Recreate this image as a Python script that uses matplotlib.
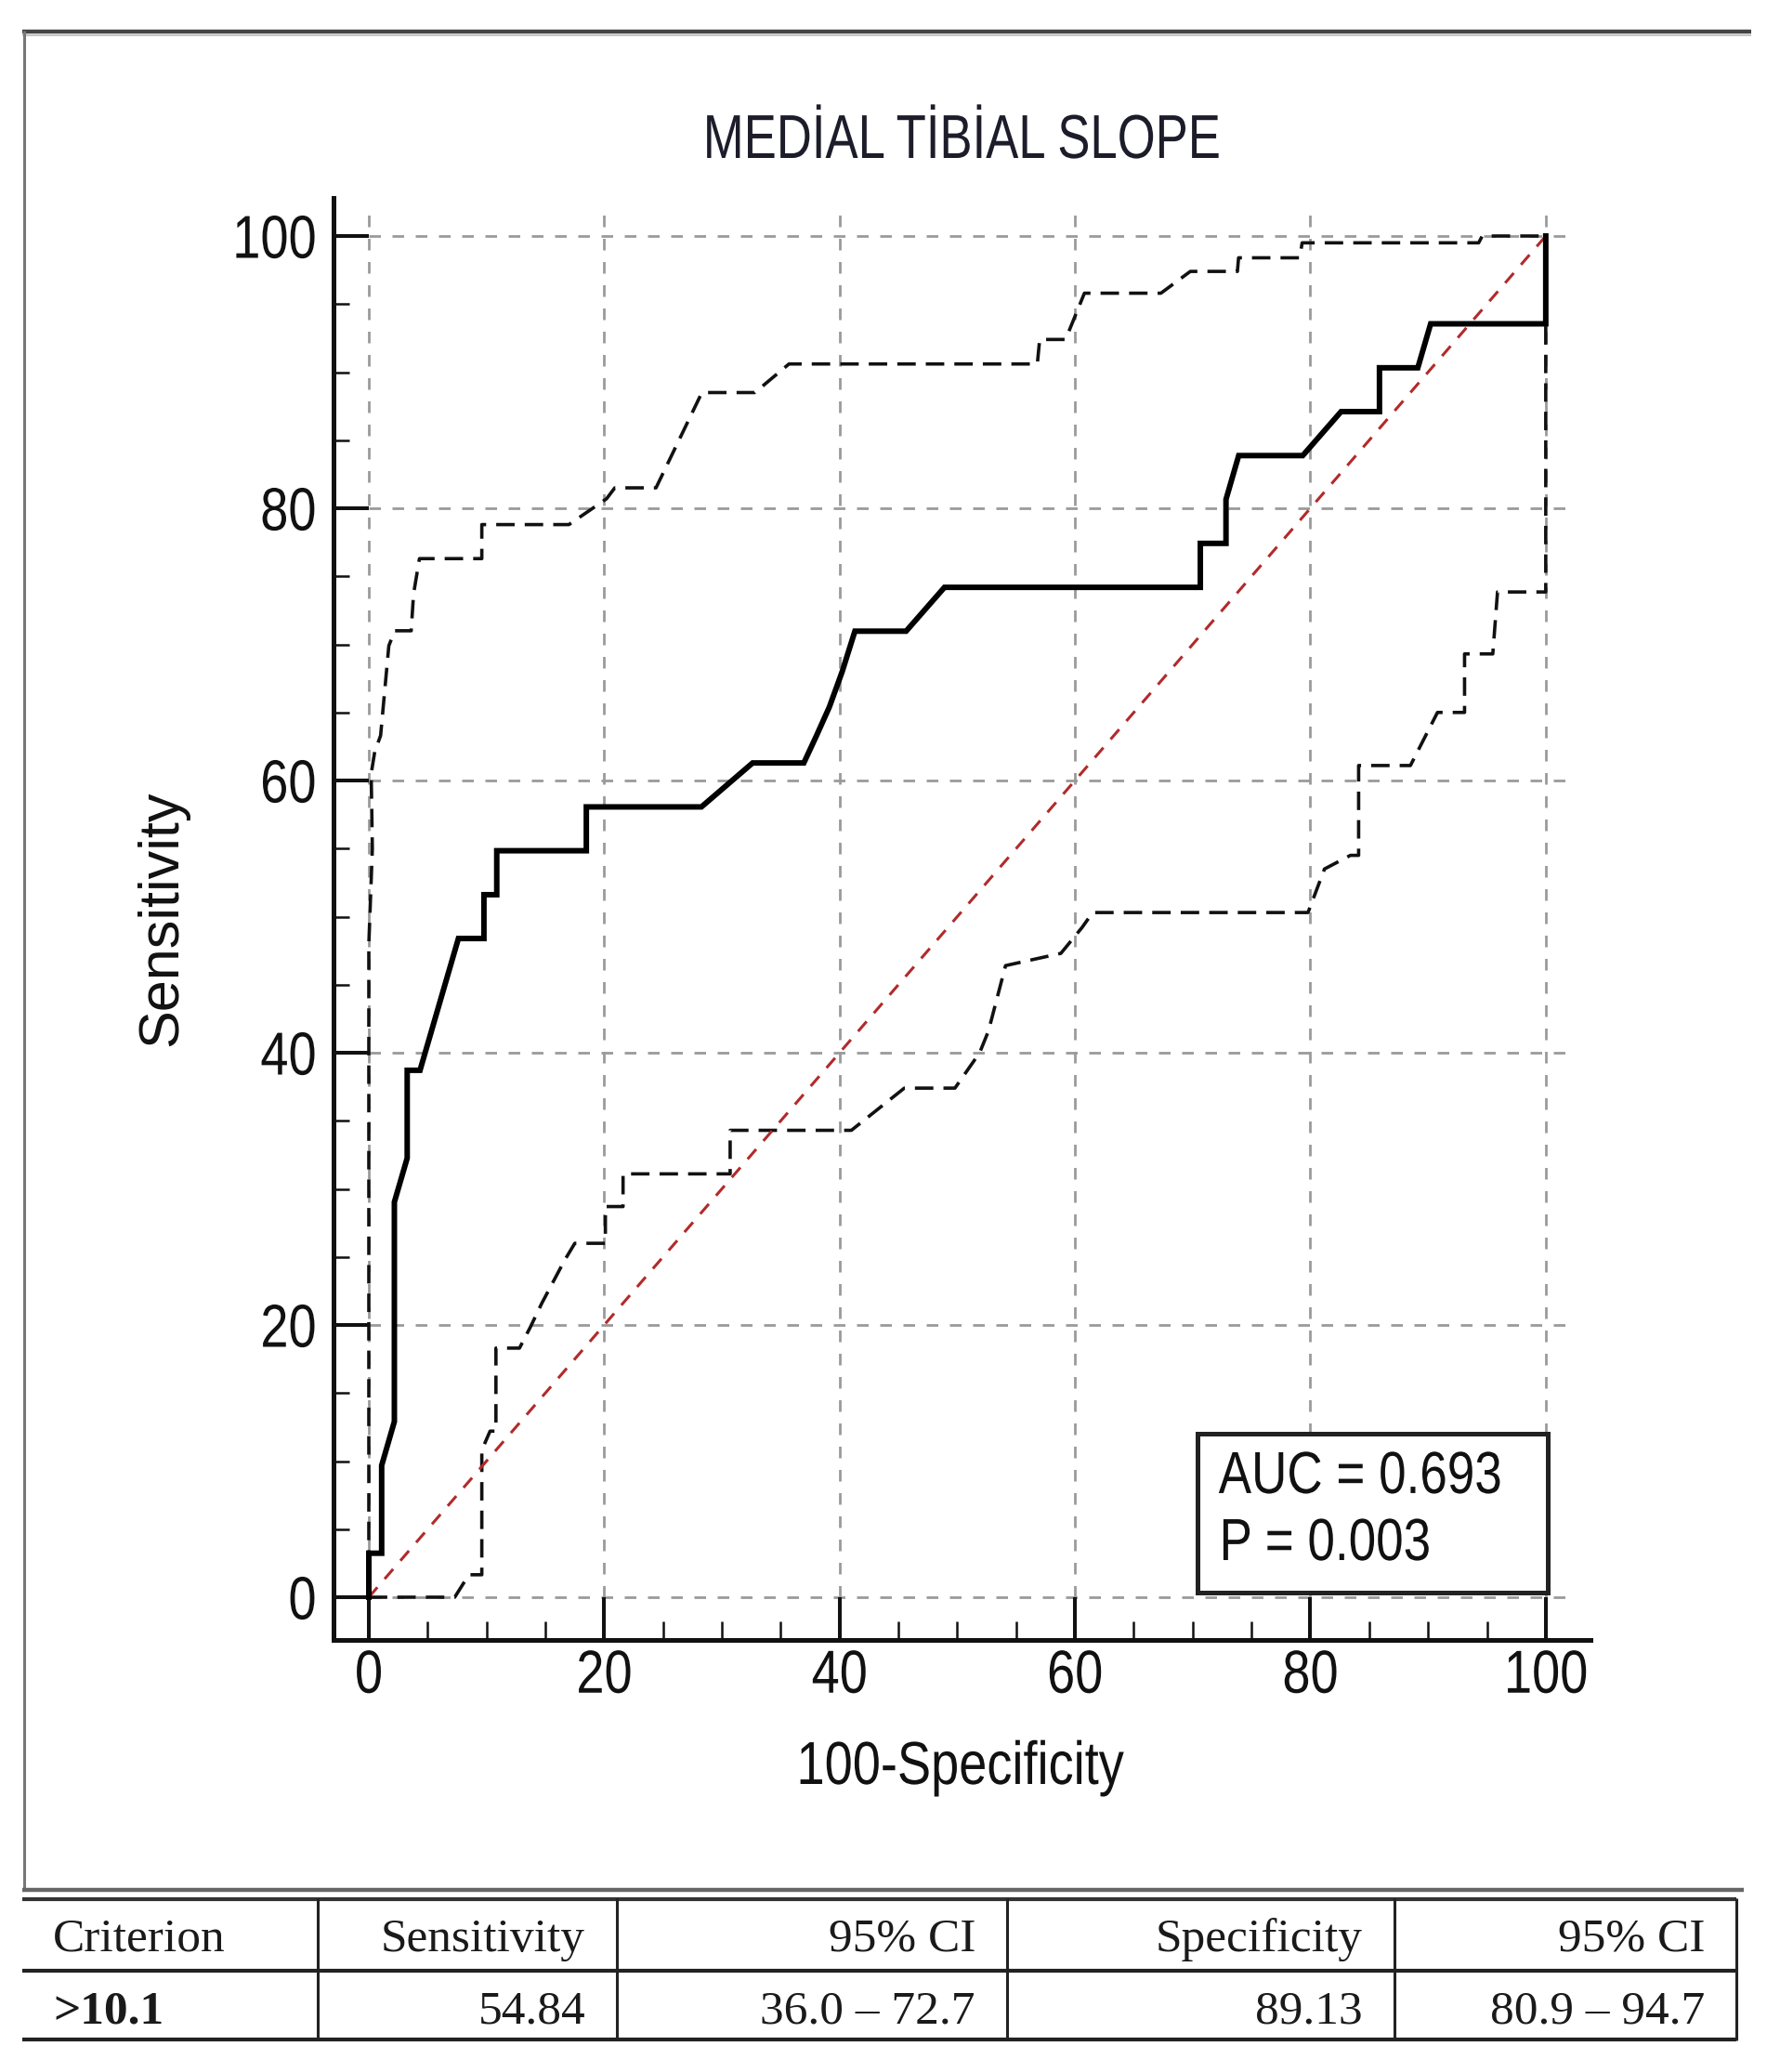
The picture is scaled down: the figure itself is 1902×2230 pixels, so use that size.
import numpy as np
import matplotlib
matplotlib.use("Agg")
import matplotlib.pyplot as plt
from matplotlib.patches import Rectangle
from matplotlib.patheffects import AbstractPathEffect
from matplotlib.transforms import Affine2D

# --- data (percent) ---
roc_fpr = [0, 0, 1.09, 1.09, 2.17, 2.17, 3.26, 3.26, 4.35, 7.61, 9.78, 9.78, 10.87, 10.87,
           18.48, 18.48, 28.26, 32.61, 36.96, 38.04, 39.13, 40.22, 41.30, 45.65, 48.91,
           70.65, 70.65, 72.83, 72.83, 73.91, 79.35, 82.61, 85.87, 85.87, 89.13, 90.22, 100, 100]
roc_tpr = [0, 3.23, 3.23, 9.68, 12.90, 29.03, 32.26, 38.71, 38.71, 48.39, 48.39, 51.61, 51.61, 54.84,
           54.84, 58.06, 58.06, 61.29, 61.29, 63.3, 65.4, 68.0, 70.97, 70.97, 74.19,
           74.19, 77.42, 77.42, 80.65, 83.87, 83.87, 87.10, 87.10, 90.32, 90.32, 93.55, 93.55, 100]

ci_up_x = [0, 0, 0.3, 0.2, 0.5, 1.0, 1.7, 2.2, 3.6, 3.8, 4.3, 9.6, 9.6, 17.0, 20.2, 20.9, 24.4,
           28.3, 32.8, 35.7, 56.8, 57.0, 59.2, 60.8, 67.3, 69.8, 73.8, 73.9, 79.1, 79.3, 94.3, 94.6, 100]
ci_up_y = [0, 48, 55, 60.5, 62.1, 63.3, 69.9, 71.0, 71.0, 73.7, 76.3, 76.3, 78.8, 78.8, 80.7, 81.5, 81.5,
           88.5, 88.5, 90.6, 90.6, 92.4, 92.4, 95.8, 95.8, 97.4, 97.4, 98.4, 98.4, 99.5, 99.5, 100, 100]

ci_lo_x = [0, 7.3, 8.5, 9.6, 9.6, 10.3, 10.8, 10.8, 12.8, 13.7, 14.7, 16.6, 17.5, 20.1, 20.1, 21.6,
           21.6, 30.7, 30.7, 41.0, 45.5, 49.8, 51.9, 52.65, 54.1, 58.8, 60.6, 61.5, 79.8, 81.2, 83.4,
           84.1, 84.1, 88.5, 90.8, 93.1, 93.1, 95.5, 95.9, 100, 100]
ci_lo_y = [0, 0, 1.65, 1.65, 10.8, 12.2, 12.2, 18.3, 18.3, 19.8, 21.6, 24.7, 26.0, 26.0, 28.7, 28.7,
           31.1, 31.1, 34.3, 34.3, 37.4, 37.4, 40.0, 41.6, 46.4, 47.3, 49.2, 50.3, 50.3, 53.5, 54.5,
           54.5, 61.1, 61.1, 65.0, 65.0, 69.3, 69.3, 73.85, 73.85, 100]

title = "MEDİAL TİBİAL SLOPE"
auc_lines = ["AUC = 0.693", "P = 0.003"]
ticks = [0, 20, 40, 60, 80, 100]

table_header = ["Criterion", "Sensitivity", "95% CI", "Specificity", "95% CI"]
table_row = [">10.1", "54.84", "36.0 – 72.7", "89.13", "80.9 – 94.7"]

SANS = ["Liberation Sans", "DejaVu Sans"]
SERIF = ["Liberation Serif", "DejaVu Serif"]


class Squeeze(AbstractPathEffect):
    """draw text narrower (the source used a condensed face)"""

    def __init__(self, sx, anchor="center"):
        super().__init__()
        self.sx = sx
        self.anchor = anchor

    def draw_path(self, renderer, gc, tpath, affine, rgbFace=None):
        ext = tpath.get_extents(affine)
        x0 = {"left": ext.x0, "center": 0.5 * (ext.x0 + ext.x1), "right": ext.x1}[self.anchor]
        aff = affine + Affine2D().translate(-x0, 0).scale(self.sx, 1.0).translate(x0, 0)
        renderer.draw_path(gc, tpath, aff, rgbFace)


W, H = 1902, 2230
fig = plt.figure(figsize=(W / 100, H / 100), dpi=100)

# overlay in pixel units for frame + table
oax = fig.add_axes([0, 0, 1, 1])
oax.set_xlim(0, W)
oax.set_ylim(H, 0)
oax.axis("off")

# outer frame (top + left)
oax.plot([24, 1885], [34, 34], color="#444444", lw=3.2, solid_capstyle="butt")
oax.plot([24, 1885], [37.5, 37.5], color="#bbbbbb", lw=1.2, solid_capstyle="butt")
oax.plot([25.5, 25.5], [33, 2035], color="#777777", lw=2.2, solid_capstyle="butt")

# table
col_edges = [24, 342, 664, 1084, 1501, 1869]
oax.plot([24, 1877], [2034, 2034], color="#666666", lw=3.2, solid_capstyle="butt")
oax.plot([24, 1869], [2043.5, 2043.5], color="#333333", lw=3.0, solid_capstyle="butt")
oax.plot([24, 1869], [2120.5, 2120.5], color="#222222", lw=3.0, solid_capstyle="butt")
oax.plot([24, 1869], [2195, 2195], color="#222222", lw=3.0, solid_capstyle="butt")
for xe in col_edges[1:]:
    oax.plot([xe, xe], [2043, 2196], color="#222222", lw=2.2, solid_capstyle="butt")

for i, (hd, rv) in enumerate(zip(table_header, table_row)):
    if i == 0:
        x, ha = col_edges[0] + 33, "left"
    else:
        x, ha = col_edges[i + 1] - 34, "right"
    oax.text(x, 2100, hd, ha=ha, va="baseline", fontsize=37, family=SERIF, color="#1a1a1a")
    oax.text(x, 2178, rv, ha=ha, va="baseline", fontsize=37, family=SERIF, color="#1a1a1a",
             fontweight="bold" if i == 0 else "normal")

# title and axis labels
oax.text(1035, 170, title, ha="center", va="baseline", fontsize=48, family=SANS, color="#1c1c2a",
         path_effects=[Squeeze(0.79)])
oax.text(1033, 1920, "100-Specificity", ha="center", va="baseline", fontsize=47, family=SANS,
         color="#111111", path_effects=[Squeeze(0.83)])
oax.text(175, 988, "Sensitivity", ha="center", va="center", rotation=90, fontsize=44,
         family=SANS, color="#111111")

# main plot axes
ax = fig.add_axes([359 / W, (H - 1765) / H, (1712 - 359) / W, (1765 - 213) / H])
ax.set_xlim(-3.0, 103.8)
ax.set_ylim(-3.14, 102.8)
ax.patch.set_alpha(0)

for s in ["top", "right"]:
    ax.spines[s].set_visible(False)
for s in ["left", "bottom"]:
    ax.spines[s].set_linewidth(3.6)
    ax.spines[s].set_color("#111111")

ax.set_xticks(ticks)
ax.set_yticks(ticks)
ax.set_xticks(np.arange(0, 101, 5), minor=True)
ax.set_yticks(np.arange(0, 101, 5), minor=True)
ax.tick_params(axis="x", which="major", direction="in", length=33, width=2.9, pad=7,
               labelsize=47, colors="#111111")
ax.tick_params(axis="y", which="major", direction="in", length=27.4, width=2.9, pad=13,
               labelsize=47, colors="#111111")
ax.tick_params(axis="x", which="minor", direction="in", length=14.4, width=1.8, colors="#111111")
ax.tick_params(axis="y", which="minor", direction="in", length=12.2, width=1.8, colors="#111111")
for lab in ax.get_xticklabels():
    lab.set_family(SANS)
    lab.set_path_effects([Squeeze(0.83, "center")])
for lab in ax.get_yticklabels():
    lab.set_family(SANS)
    lab.set_path_effects([Squeeze(0.83, "right")])

# dashed grid
grid_kw = dict(color="#9a9a9a", lw=2.0, linestyles=(0, (4.5, 4.5)), zorder=1)
ax.vlines(ticks, 0, 101.6, **grid_kw)
ax.hlines(ticks, 0, 102.6, **grid_kw)

# curves
ax.plot(ci_up_x, ci_up_y, color="#111111", lw=2.6, ls=(0, (5.5, 3.0)), zorder=3)
ax.plot(ci_lo_x, ci_lo_y, color="#111111", lw=2.6, ls=(0, (5.5, 3.0)), zorder=3)
ax.plot([0, 100], [0, 100], color="#b22a2a", lw=2.2, ls=(0, (4.6, 3.9)), zorder=3)
ax.plot(roc_fpr, roc_tpr, color="#000000", lw=4.3, zorder=4, solid_joinstyle="miter")

# AUC box
ax.add_patch(Rectangle((70.4, 0.34), 29.8, 11.66, facecolor="white", edgecolor="#222222",
                       lw=3.6, zorder=5))
for txt, yb in zip(auc_lines, [7.65, 2.73]):
    ax.text(72.2, yb, txt, ha="left", va="baseline", fontsize=46, family=SANS, color="#111111",
            zorder=6, path_effects=[Squeeze(0.83, "left")])

fig.savefig("out.png", dpi=100)
